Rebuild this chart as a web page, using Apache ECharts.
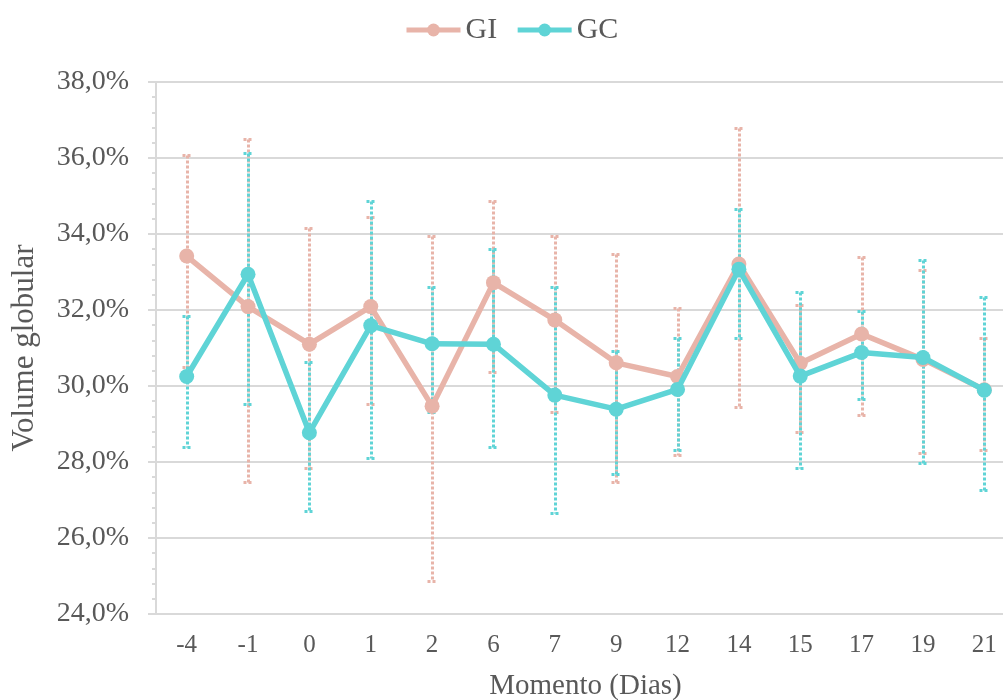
<!DOCTYPE html>
<html>
<head>
<meta charset="utf-8">
<script src="https://cdn.jsdelivr.net/npm/echarts@6/dist/echarts.min.js"></script>
<style>
  html, body { margin: 0; padding: 0; background: #ffffff; }
  #chart { width: 1003px; height: 700px; }
</style>
</head>
<body>
<div id="chart"></div>
<script>
// Packed cell volume (%) per sampling day, group means with error bar limits
const categories = ['-4', '-1', '0', '1', '2', '6', '7', '9', '12', '14', '15', '17', '19', '21'];

const giMean = [33.42, 32.09, 31.10, 32.09, 29.47, 32.72, 31.74, 30.61, 30.25, 33.21, 30.60, 31.37, 30.70, 29.90];
const giHigh = [36.08, 36.49, 34.17, 34.46, 33.96, 34.87, 33.95, 33.47, 32.04, 36.78, 32.13, 33.40, 33.05, 31.27];
const giLow  = [30.51, 27.48, 27.83, 29.52, 24.87, 30.36, 29.31, 27.48, 28.18, 29.46, 28.80, 29.24, 28.25, 28.32];

const gcMean = [30.25, 32.94, 28.77, 31.59, 31.11, 31.10, 29.76, 29.39, 29.91, 33.07, 30.26, 30.88, 30.75, 29.89];
const gcHigh = [31.84, 36.14, 30.64, 34.87, 32.61, 33.60, 32.61, 30.92, 31.27, 34.66, 32.47, 31.98, 33.32, 32.33];
const gcLow  = [28.40, 29.53, 26.71, 28.11, 29.31, 28.40, 26.65, 27.68, 28.32, 31.27, 27.83, 29.65, 27.97, 27.26];

const yTicks = { min: 24, max: 38, interval: 2 };

const COLOR_GI = '#E8B4A9';
const COLOR_GC = '#5FD4D6';
const GRAY = '#D9D9D9';
const TEXT = '#595959';
const FONT = 'Liberation Serif';

function errorData(low, high) {
  return low.map((lo, i) => [i, lo, high[i]]);
}

// Dotted vertical whisker with short dotted caps at both limits
function errorBarRenderer(color) {
  return function (params, api) {
    const i = api.value(0);
    const top = api.coord([i, api.value(2)]);
    const bot = api.coord([i, api.value(1)]);
    const x = Math.round(top[0]) + 0.5;
    const yTop = Math.round(top[1]) + 0.5;
    const yBot = Math.round(bot[1]) + 0.5;
    const half = 5;
    const style = { stroke: color, lineWidth: 3, lineDash: [3, 2], fill: null };
    return {
      type: 'group',
      children: [
        { type: 'line', shape: { x1: x, y1: yTop, x2: x, y2: yBot }, style: style },
        { type: 'line', shape: { x1: x - half, y1: yTop, x2: x + half, y2: yTop }, style: style },
        { type: 'line', shape: { x1: x - half, y1: yBot, x2: x + half, y2: yBot }, style: style }
      ]
    };
  };
}

const chart = echarts.init(document.getElementById('chart'), null, { renderer: 'canvas' });

chart.setOption({
  animation: false,
  backgroundColor: '#ffffff',
  textStyle: { fontFamily: FONT, color: TEXT },
  legend: {
    data: ['GI', 'GC'],
    top: 10,
    left: 399,
    itemWidth: 54,
    itemHeight: 16,
    itemGap: 18,
    lineStyle: { width: 5 },
    textStyle: { fontFamily: FONT, fontSize: 30, color: TEXT }
  },
  grid: {
    left: 156, top: 82, width: 859, height: 532,
    containLabel: false,
    outerBoundsMode: 'none'
  },
  xAxis: {
    type: 'category',
    data: categories,
    boundaryGap: true,
    name: 'Momento (Dias)',
    nameLocation: 'middle',
    nameGap: 58,
    nameTextStyle: { fontFamily: FONT, fontSize: 29, color: TEXT },
    axisLine: { show: true, lineStyle: { color: GRAY, width: 2 } },
    axisTick: { show: false },
    axisLabel: { fontFamily: FONT, fontSize: 25, color: TEXT, margin: 19, interval: 0 },
    splitLine: { show: false }
  },
  yAxis: {
    type: 'value',
    min: yTicks.min,
    max: yTicks.max,
    interval: yTicks.interval,
    name: 'Volume globular',
    nameLocation: 'middle',
    nameGap: 116,
    nameRotate: 90,
    nameTextStyle: { fontFamily: FONT, fontSize: 31, color: TEXT },
    axisLine: { show: true, lineStyle: { color: GRAY, width: 2 } },
    axisTick: { show: true, length: 8, lineStyle: { color: GRAY, width: 2 } },
    minorTick: { show: true, splitNumber: 5, length: 4, lineStyle: { color: GRAY, width: 2 } },
    axisLabel: {
      fontFamily: FONT, fontSize: 28, color: TEXT, margin: 27,
      formatter: v => v.toFixed(1).replace('.', ',') + '%'
    },
    splitLine: { show: true, lineStyle: { color: GRAY, width: 2 } }
  },
  series: [
    {
      name: 'GI-err', type: 'custom', z: 1, silent: true,
      renderItem: errorBarRenderer(COLOR_GI),
      data: errorData(giLow, giHigh)
    },
    {
      name: 'GC-err', type: 'custom', z: 1, silent: true,
      renderItem: errorBarRenderer(COLOR_GC),
      data: errorData(gcLow, gcHigh)
    },
    {
      name: 'GI', type: 'line', z: 3, data: giMean,
      symbol: 'circle', symbolSize: 15,
      lineStyle: { color: COLOR_GI, width: 5.5 },
      itemStyle: { color: COLOR_GI }
    },
    {
      name: 'GC', type: 'line', z: 4, data: gcMean,
      symbol: 'circle', symbolSize: 15,
      lineStyle: { color: COLOR_GC, width: 5.5 },
      itemStyle: { color: COLOR_GC }
    }
  ]
});
</script>
</body>
</html>
